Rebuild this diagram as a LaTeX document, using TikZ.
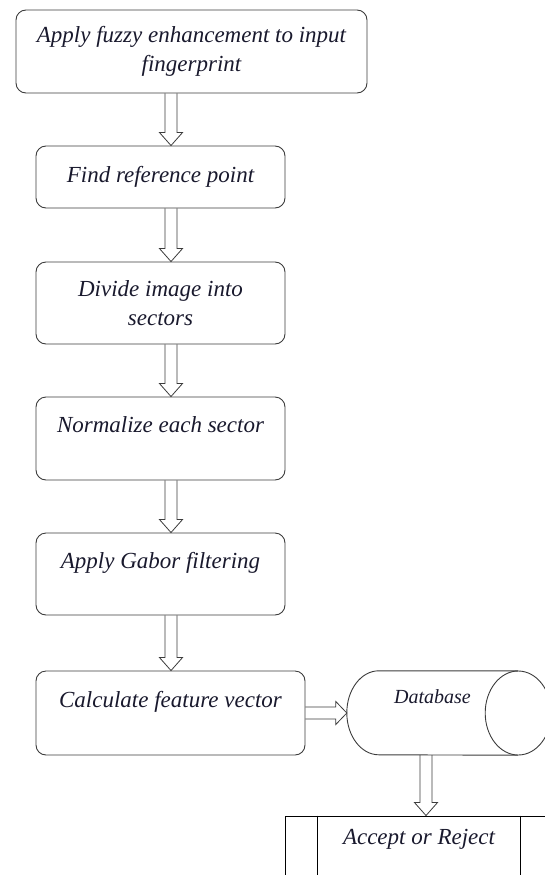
\documentclass[tikz,border=0pt]{standalone}
\usepackage{fontspec}
\setmainfont{Liberation Serif}
\usepackage{xcolor}
\usetikzlibrary{positioning, calc, arrows.meta}
\definecolor{lineGray}{RGB}{60,60,60}
\definecolor{inkDark}{RGB}{25,25,45}

% hollow block arrows
\newcommand{\fatdown}[2]{%
  \draw[fatarrow] let \p1=(#1), \p2=(#2) in
    (\x1-6pt,\y1) -- (\x1-6pt,\y2+13pt) -- (\x1-11.5pt,\y2+13pt) -- (\x1,\y2)
    -- (\x1+11.5pt,\y2+13pt) -- (\x1+6pt,\y2+13pt) -- (\x1+6pt,\y1);}
\newcommand{\fatright}[2]{%
  \draw[fatarrow] let \p1=(#1), \p2=(#2) in
    (\x1,\y1+6pt) -- (\x2-11pt,\y1+6pt) -- (\x2-11pt,\y1+11.5pt) -- (\x2,\y1)
    -- (\x2-11pt,\y1-11.5pt) -- (\x2-11pt,\y1-6pt) -- (\x1,\y1-6pt);}

\begin{document}
\begin{tikzpicture}[x=1pt, y=-1pt,
			stepbox/.style={
				draw=lineGray,
				line width=0.9pt,
				rounded corners=10pt,
				align=center,
				inner sep=2pt,
				text=inkDark,
				font=\fontsize{23}{28.5}\selectfont\itshape
			},
			tallbox/.style={
				stepbox,
				text depth=27pt
			},
			store/.style={
				minimum width=171pt,
				minimum height=84pt,
				inner sep=0pt,
				text depth=33pt,
				text=inkDark,
				font=\fontsize{20}{24}\selectfont\itshape
			},
			verdictbox/.style={
				draw=black,
				line width=0.9pt,
				minimum width=268pt,
				minimum height=70pt,
				text depth=28pt,
				text=inkDark,
				font=\fontsize{23}{28.5}\selectfont\itshape
			},
			fatarrow/.style={
				draw=lineGray,
				line width=0.8pt
			}
			]
			\useasboundingbox (0,0) rectangle (544,875);
			
			% Processing steps
			\node[stepbox, minimum width=351pt, minimum height=83pt] (enhance) at (191.5,51.5) {Apply fuzzy enhancement to input\\fingerprint};
			\node[stepbox, minimum width=249pt, minimum height=62pt] (refpoint) at (160.5,177) {Find reference point};
			\node[stepbox, minimum width=249pt, minimum height=82pt] (divide) at (160.5,303) {Divide image into\\sectors};
			\node[tallbox, minimum width=249pt, minimum height=83pt] (normalize) at (160.5,438.5) {Normalize each sector};
			\node[tallbox, minimum width=249pt, minimum height=82pt] (gabor) at (160.5,574) {Apply Gabor filtering};
			\node[tallbox, minimum width=269pt, minimum height=84pt] (feature) at (170.5,713) {Calculate feature vector};
			
			% Database drum
			\node[store] (db) at (432.5,713) {Database};
			\draw[lineGray, line width=0.9pt] (db.north east) -- ([xshift=32pt]db.north west)
				arc[start angle=90, end angle=270, x radius=32pt, y radius=42pt] -- (db.south east);
			\draw[lineGray, line width=0.9pt] (db.east) ellipse[x radius=33pt, y radius=42pt];
			
			% Result
			\node[verdictbox] (verdict) at (419,851) {Accept or Reject};
			\draw[black, line width=0.9pt] ([xshift=33pt]verdict.north west) -- ([xshift=33pt]verdict.south west);
			\draw[black, line width=0.9pt] ([xshift=-33pt]verdict.north east) -- ([xshift=-33pt]verdict.south east);
			
			% Arrows
			\coordinate (spine) at (171,0);
			\coordinate (drop) at (426,0);
			\fatdown{spine |- enhance.south}{spine |- refpoint.north}
			\fatdown{spine |- refpoint.south}{spine |- divide.north}
			\fatdown{spine |- divide.south}{spine |- normalize.north}
			\fatdown{spine |- normalize.south}{spine |- gabor.north}
			\fatdown{spine |- gabor.south}{spine |- feature.north}
			\fatright{feature.east}{db.west}
			\fatdown{drop |- db.south}{drop |- verdict.north}
			
		\end{tikzpicture}
\end{document}
